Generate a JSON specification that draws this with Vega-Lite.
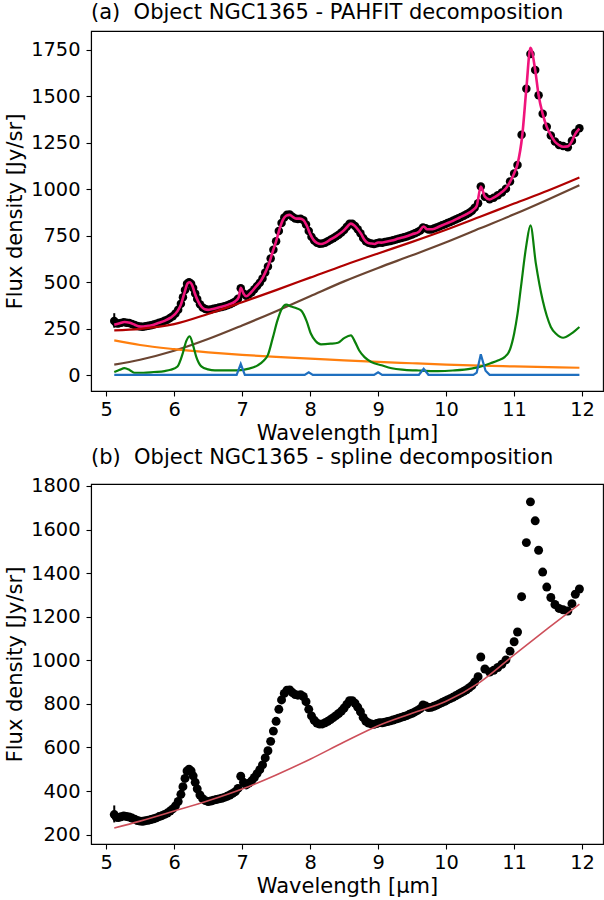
{
  "$schema": "https://vega.github.io/schema/vega-lite/v6.json",
  "padding": {"left": 4, "top": 1, "right": 0, "bottom": 0},
  "spacing": 2,
  "config": {
    "view": {"stroke": "black", "strokeWidth": 1.1},
    "font": "DejaVu Sans",
    "axis": {"grid": false, "domainColor": "black", "domainWidth": 1.1, "tickColor": "black", "tickWidth": 1.1, "tickSize": 5, "labelFont": "DejaVu Sans", "labelFontSize": 19.4, "labelColor": "black", "titleFont": "DejaVu Sans", "titleFontSize": 21, "titleFontWeight": "normal", "titleColor": "black", "format": "d"},
    "axisY": {"labelPadding": 6, "titlePadding": 5},
    "axisX": {"labelPadding": 4, "titlePadding": 4},
    "title": {"font": "DejaVu Sans", "fontSize": 21, "fontWeight": "normal", "color": "black", "anchor": "start", "frame": "group", "offset": 8, "baseline": "alphabetic"}
  },
  "datasets": {
    "obs": [
      {"w":5.12,"f":292},{"w":5.15,"f":280},{"w":5.18,"f":278},{"w":5.22,"f":282},{"w":5.26,"f":286},{"w":5.30,"f":283},{"w":5.34,"f":281},{"w":5.38,"f":276},{"w":5.42,"f":271},{"w":5.46,"f":265},{"w":5.50,"f":262},{"w":5.54,"f":261},{"w":5.58,"f":264},{"w":5.62,"f":266},{"w":5.66,"f":269},{"w":5.70,"f":273},{"w":5.74,"f":277},{"w":5.78,"f":283},{"w":5.82,"f":287},{"w":5.86,"f":293},{"w":5.90,"f":299},{"w":5.94,"f":308},{"w":5.98,"f":318},{"w":6.02,"f":332},{"w":6.06,"f":352},{"w":6.10,"f":385},{"w":6.13,"f":420},{"w":6.16,"f":458},{"w":6.19,"f":492},{"w":6.22,"f":500},{"w":6.25,"f":492},{"w":6.28,"f":470},{"w":6.31,"f":440},{"w":6.34,"f":410},{"w":6.38,"f":382},{"w":6.42,"f":365},{"w":6.46,"f":356},{"w":6.50,"f":352},{"w":6.54,"f":354},{"w":6.58,"f":358},{"w":6.62,"f":361},{"w":6.66,"f":364},{"w":6.70,"f":367},{"w":6.74,"f":371},{"w":6.78,"f":376},{"w":6.82,"f":382},{"w":6.86,"f":389},{"w":6.90,"f":397},{"w":6.94,"f":412},{"w":6.98,"f":468},{"w":7.02,"f":440},{"w":7.06,"f":428},{"w":7.10,"f":436},{"w":7.14,"f":447},{"w":7.18,"f":462},{"w":7.22,"f":480},{"w":7.26,"f":498},{"w":7.30,"f":520},{"w":7.34,"f":552},{"w":7.38,"f":585},{"w":7.42,"f":628},{"w":7.46,"f":675},{"w":7.50,"f":720},{"w":7.54,"f":775},{"w":7.58,"f":818},{"w":7.62,"f":848},{"w":7.66,"f":863},{"w":7.70,"f":864},{"w":7.74,"f":852},{"w":7.78,"f":843},{"w":7.82,"f":840},{"w":7.86,"f":842},{"w":7.90,"f":834},{"w":7.94,"f":810},{"w":7.98,"f":775},{"w":8.02,"f":745},{"w":8.06,"f":725},{"w":8.10,"f":712},{"w":8.14,"f":707},{"w":8.18,"f":708},{"w":8.22,"f":713},{"w":8.26,"f":720},{"w":8.30,"f":728},{"w":8.34,"f":737},{"w":8.38,"f":746},{"w":8.42,"f":756},{"w":8.46,"f":767},{"w":8.50,"f":781},{"w":8.54,"f":798},{"w":8.58,"f":815},{"w":8.62,"f":815},{"w":8.66,"f":803},{"w":8.70,"f":785},{"w":8.74,"f":764},{"w":8.78,"f":738},{"w":8.82,"f":720},{"w":8.86,"f":712},{"w":8.90,"f":708},{"w":8.94,"f":706},{"w":8.98,"f":710},{"w":9.02,"f":714},{"w":9.06,"f":713},{"w":9.10,"f":716},{"w":9.14,"f":719},{"w":9.18,"f":722},{"w":9.22,"f":726},{"w":9.26,"f":730},{"w":9.30,"f":734},{"w":9.34,"f":738},{"w":9.38,"f":742},{"w":9.42,"f":746},{"w":9.46,"f":752},{"w":9.50,"f":757},{"w":9.54,"f":763},{"w":9.58,"f":770},{"w":9.62,"f":778},{"w":9.66,"f":795},{"w":9.70,"f":790},{"w":9.74,"f":783},{"w":9.78,"f":784},{"w":9.82,"f":789},{"w":9.86,"f":794},{"w":9.90,"f":800},{"w":9.94,"f":806},{"w":9.98,"f":812},{"w":10.02,"f":818},{"w":10.06,"f":824},{"w":10.10,"f":830},{"w":10.14,"f":837},{"w":10.18,"f":844},{"w":10.22,"f":851},{"w":10.26,"f":858},{"w":10.30,"f":865},{"w":10.34,"f":874},{"w":10.38,"f":884},{"w":10.42,"f":900},{"w":10.47,"f":925},{"w":10.51,"f":1015},{"w":10.57,"f":960},{"w":10.64,"f":946},{"w":10.70,"f":954},{"w":10.76,"f":967},{"w":10.82,"f":982},{"w":10.88,"f":1002},{"w":10.94,"f":1042},{"w":11.00,"f":1085},{"w":11.05,"f":1130},{"w":11.11,"f":1292},{"w":11.18,"f":1540},{"w":11.24,"f":1727},{"w":11.31,"f":1640},{"w":11.36,"f":1505},{"w":11.42,"f":1405},{"w":11.48,"f":1336},{"w":11.54,"f":1288},{"w":11.60,"f":1256},{"w":11.66,"f":1238},{"w":11.72,"f":1232},{"w":11.79,"f":1226},{"w":11.85,"f":1260},{"w":11.90,"f":1303},{"w":11.96,"f":1327}
    ],
    "err": [{"w":5.12,"f":256,"f2":334}],
    "model": [
      {"w":5.12,"f":272},{"w":5.2,"f":280},{"w":5.27,"f":287},{"w":5.35,"f":282},{"w":5.42,"f":272},{"w":5.48,"f":263},{"w":5.55,"f":262},{"w":5.62,"f":266},{"w":5.7,"f":272},{"w":5.78,"f":283},{"w":5.86,"f":293},{"w":5.95,"f":310},{"w":6.05,"f":345},{"w":6.1,"f":380},{"w":6.15,"f":440},{"w":6.2,"f":495},{"w":6.23,"f":500},{"w":6.27,"f":480},{"w":6.3,"f":445},{"w":6.35,"f":400},{"w":6.4,"f":370},{"w":6.45,"f":355},{"w":6.5,"f":352},{"w":6.55,"f":355},{"w":6.63,"f":362},{"w":6.7,"f":368},{"w":6.8,"f":380},{"w":6.9,"f":398},{"w":6.95,"f":420},{"w":6.98,"f":470},{"w":7.02,"f":440},{"w":7.06,"f":425},{"w":7.13,"f":445},{"w":7.2,"f":475},{"w":7.28,"f":510},{"w":7.35,"f":560},{"w":7.4,"f":605},{"w":7.45,"f":665},{"w":7.5,"f":720},{"w":7.55,"f":785},{"w":7.6,"f":835},{"w":7.65,"f":858},{"w":7.7,"f":862},{"w":7.75,"f":850},{"w":7.8,"f":842},{"w":7.85,"f":842},{"w":7.9,"f":835},{"w":7.95,"f":805},{"w":8.0,"f":760},{"w":8.05,"f":728},{"w":8.1,"f":712},{"w":8.16,"f":706},{"w":8.22,"f":712},{"w":8.3,"f":730},{"w":8.4,"f":752},{"w":8.5,"f":780},{"w":8.55,"f":800},{"w":8.6,"f":815},{"w":8.65,"f":805},{"w":8.7,"f":785},{"w":8.75,"f":760},{"w":8.8,"f":728},{"w":8.85,"f":712},{"w":8.9,"f":708},{"w":8.95,"f":706},{"w":9.0,"f":714},{"w":9.05,"f":713},{"w":9.1,"f":716},{"w":9.2,"f":724},{"w":9.3,"f":735},{"w":9.4,"f":745},{"w":9.5,"f":758},{"w":9.6,"f":772},{"w":9.67,"f":800},{"w":9.72,"f":785},{"w":9.8,"f":785},{"w":9.9,"f":800},{"w":10.0,"f":815},{"w":10.1,"f":830},{"w":10.2,"f":848},{"w":10.3,"f":866},{"w":10.4,"f":890},{"w":10.45,"f":910},{"w":10.51,"f":1015},{"w":10.57,"f":960},{"w":10.64,"f":945},{"w":10.7,"f":955},{"w":10.76,"f":968},{"w":10.82,"f":985},{"w":10.88,"f":1005},{"w":10.94,"f":1040},{"w":11.0,"f":1085},{"w":11.05,"f":1135},{"w":11.12,"f":1290},{"w":11.18,"f":1540},{"w":11.24,"f":1760},{"w":11.31,"f":1640},{"w":11.36,"f":1505},{"w":11.42,"f":1405},{"w":11.48,"f":1335},{"w":11.54,"f":1290},{"w":11.6,"f":1255},{"w":11.66,"f":1237},{"w":11.72,"f":1228},{"w":11.79,"f":1230},{"w":11.85,"f":1258},{"w":11.9,"f":1297},{"w":11.96,"f":1325}
    ],
    "cont": [
      {"w":5.12,"f":242},{"w":5.5,"f":250},{"w":6,"f":275},{"w":6.5,"f":330},{"w":7,"f":393},{"w":7.5,"f":458},{"w":8,"f":525},{"w":8.5,"f":592},{"w":9,"f":655},{"w":9.5,"f":717},{"w":10,"f":782},{"w":10.5,"f":852},{"w":11,"f":923},{"w":11.5,"f":993},{"w":11.96,"f":1063}
    ],
    "dust": [
      {"w":5.12,"f":58},{"w":5.5,"f":84},{"w":6,"f":132},{"w":6.5,"f":195},{"w":7,"f":268},{"w":7.5,"f":345},{"w":8,"f":425},{"w":8.5,"f":505},{"w":9,"f":577},{"w":9.5,"f":645},{"w":10,"f":715},{"w":10.5,"f":790},{"w":11,"f":865},{"w":11.5,"f":945},{"w":11.96,"f":1022}
    ],
    "star": [
      {"w":5.12,"f":188},{"w":5.5,"f":163},{"w":6,"f":141},{"w":6.5,"f":124},{"w":7,"f":110},{"w":7.5,"f":99},{"w":8,"f":90},{"w":8.5,"f":80},{"w":9,"f":72},{"w":9.5,"f":65},{"w":10,"f":58},{"w":10.5,"f":52},{"w":11,"f":48},{"w":11.5,"f":44},{"w":11.96,"f":41}
    ],
    "pah": [
      {"w":5.12,"f":18},{"w":5.2,"f":30},{"w":5.27,"f":39},{"w":5.35,"f":28},{"w":5.42,"f":14},{"w":5.55,"f":14},{"w":5.7,"f":18},{"w":5.86,"f":23},{"w":5.95,"f":30},{"w":6.05,"f":48},{"w":6.12,"f":110},{"w":6.18,"f":185},{"w":6.23,"f":210},{"w":6.28,"f":160},{"w":6.33,"f":95},{"w":6.4,"f":48},{"w":6.5,"f":32},{"w":6.6,"f":27},{"w":6.94,"f":27},{"w":7.1,"f":36},{"w":7.23,"f":54},{"w":7.32,"f":80},{"w":7.38,"f":110},{"w":7.45,"f":200},{"w":7.52,"f":295},{"w":7.58,"f":355},{"w":7.65,"f":380},{"w":7.72,"f":370},{"w":7.8,"f":360},{"w":7.87,"f":348},{"w":7.95,"f":290},{"w":8.01,"f":225},{"w":8.08,"f":185},{"w":8.16,"f":167},{"w":8.3,"f":170},{"w":8.41,"f":175},{"w":8.5,"f":200},{"w":8.6,"f":215},{"w":8.66,"f":180},{"w":8.72,"f":135},{"w":8.8,"f":98},{"w":8.9,"f":72},{"w":9.05,"f":54},{"w":9.2,"f":38},{"w":9.39,"f":30},{"w":9.6,"f":26},{"w":9.88,"f":23},{"w":10.1,"f":26},{"w":10.37,"f":36},{"w":10.55,"f":52},{"w":10.66,"f":66},{"w":10.76,"f":80},{"w":10.86,"f":98},{"w":10.94,"f":140},{"w":11.0,"f":224},{"w":11.05,"f":330},{"w":11.1,"f":474},{"w":11.18,"f":700},{"w":11.24,"f":806},{"w":11.32,"f":600},{"w":11.42,"f":403},{"w":11.48,"f":320},{"w":11.54,"f":260},{"w":11.62,"f":222},{"w":11.72,"f":202},{"w":11.84,"f":224},{"w":11.96,"f":260}
    ],
    "lines": [
      {"w":5.12,"f":3},{"w":6.92,"f":3},{"w":6.98,"f":62},{"w":7.04,"f":3},{"w":7.92,"f":3},{"w":7.98,"f":17},{"w":8.04,"f":3},{"w":8.94,"f":3},{"w":9.0,"f":17},{"w":9.06,"f":3},{"w":9.6,"f":3},{"w":9.67,"f":35},{"w":9.74,"f":3},{"w":10.4,"f":3},{"w":10.45,"f":15},{"w":10.51,"f":113},{"w":10.58,"f":25},{"w":10.64,"f":3},{"w":11.96,"f":3}
    ],
    "spl": [
      {"w":5.12,"f":230},{"w":5.5,"f":262},{"w":6,"f":308},{"w":6.5,"f":355},{"w":7,"f":409},{"w":7.5,"f":474},{"w":8,"f":546},{"w":8.5,"f":625},{"w":9,"f":700},{"w":9.5,"f":757},{"w":10,"f":812},{"w":10.5,"f":900},{"w":11,"f":1025},{"w":11.5,"f":1148},{"w":11.96,"f":1258}
    ]
  },
  "vconcat": [
    {
      "width": 512,
      "height": 360,
      "title": {"text": "(a)\u00a0\u00a0Object NGC1365 - PAHFIT decomposition"},
      "encoding": {
        "x": {"field": "w", "type": "quantitative", "title": "Wavelength [μm]", "scale": {"domain": [4.778, 12.307], "nice": false, "zero": false}, "axis": {"values": [5,6,7,8,9,10,11,12]}},
        "y": {"field": "f", "type": "quantitative", "title": "Flux density [Jy/sr]", "scale": {"domain": [-84, 1850], "nice": false, "zero": false}, "axis": {"values": [0,250,500,750,1000,1250,1500,1750]}}
      },
      "layer": [
        {"data": {"name": "err"}, "mark": {"type": "rule", "color": "black", "strokeWidth": 2}, "encoding": {"y2": {"field": "f2"}}},
        {"data": {"name": "obs"}, "mark": {"type": "circle", "color": "black", "opacity": 1, "size": 72}},
        {"data": {"name": "model"}, "mark": {"type": "line", "color": "#f0147c", "strokeWidth": 2.6, "interpolate": "monotone"}},
        {"data": {"name": "cont"}, "mark": {"type": "line", "color": "#b00000", "strokeWidth": 2.2, "interpolate": "monotone"}},
        {"data": {"name": "dust"}, "mark": {"type": "line", "color": "#6b4532", "strokeWidth": 2.2, "interpolate": "monotone"}},
        {"data": {"name": "star"}, "mark": {"type": "line", "color": "#ff7f0e", "strokeWidth": 2.2, "interpolate": "monotone"}},
        {"data": {"name": "pah"}, "mark": {"type": "line", "color": "#0a800a", "strokeWidth": 2.2, "interpolate": "monotone"}},
        {"data": {"name": "lines"}, "mark": {"type": "line", "color": "#1f6fbf", "strokeWidth": 2.2}}
      ]
    },
    {
      "width": 512,
      "height": 360,
      "title": {"text": "(b)\u00a0\u00a0Object NGC1365 - spline decomposition"},
      "encoding": {
        "x": {"field": "w", "type": "quantitative", "title": "Wavelength [μm]", "scale": {"domain": [4.778, 12.307], "nice": false, "zero": false}, "axis": {"values": [5,6,7,8,9,10,11,12]}},
        "y": {"field": "f", "type": "quantitative", "title": "Flux density [Jy/sr]", "scale": {"domain": [157, 1809], "nice": false, "zero": false}, "axis": {"values": [200,400,600,800,1000,1200,1400,1600,1800]}}
      },
      "layer": [
        {"data": {"name": "err"}, "mark": {"type": "rule", "color": "black", "strokeWidth": 2}, "encoding": {"y2": {"field": "f2"}}},
        {"data": {"name": "obs"}, "mark": {"type": "circle", "color": "black", "opacity": 1, "size": 80}},
        {"data": {"name": "spl"}, "mark": {"type": "line", "color": "#cd4f5a", "strokeWidth": 1.6, "interpolate": "monotone"}}
      ]
    }
  ]
}
